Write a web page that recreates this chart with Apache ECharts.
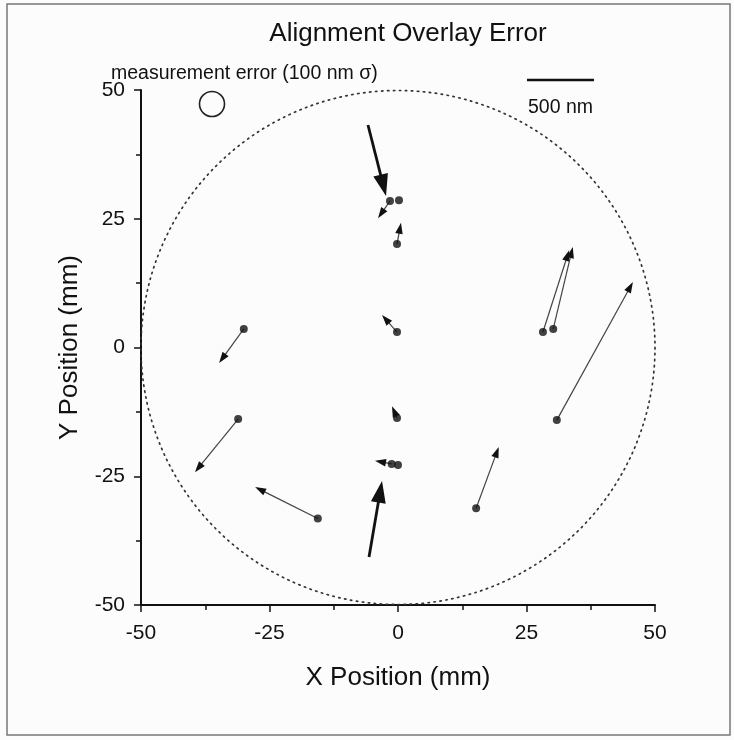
<!DOCTYPE html>
<html>
<head>
<meta charset="utf-8">
<script src="https://cdn.jsdelivr.net/npm/echarts@6/dist/echarts.min.js"></script>
<style>
html,body{margin:0;padding:0;background:#fcfcfc;}
#chart{width:734px;height:740px;}
</style>
</head>
<body>
<div id="chart"></div>
<script>
// Wafer site positions (mm) where overlay error was measured
const startX = [-1.56, -0.19, -0.19, -0.19, -1.23, 28.2, 30.2, 30.9, -30.0, -31.1, -15.6, 15.2];
const startY = [28.45, 20.1, 3.0, -13.7, -22.6, 3.0, 3.6, -14.1, 3.6, -13.9, -33.2, -31.2];
// Arrow tips (mm, error vector drawn at 500 nm ≈ 13 mm scale)
const endX = [-3.89, 0.58, -3.11, -1.17, -4.47, 33.3, 34.0, 45.7, -34.8, -39.5, -27.8, 19.6];
const endY = [25.1, 24.2, 6.3, -11.4, -22.0, 18.9, 19.5, 12.7, -3.0, -24.2, -27.1, -19.3];
// Extra measurement sites with negligible arrows
const extraX = [0.19, 0.0];
const extraY = [28.6, -22.8];
// Callout pointer arrows
const ptrStartX = [-5.84, -5.64];
const ptrStartY = [43.2, -40.7];
const ptrEndX = [-2.33, -3.11];
const ptrEndY = [29.4, -25.9];
// Wafer outline
const waferRadius = 50;
const axisTicks = [-50, -25, 0, 25, 50];

const dots = startX.map((x, i) => [x, startY[i]])
  .concat(extraX.map((x, i) => [x, extraY[i]]));
const arrows = startX.map((x, i) => [x, startY[i], endX[i], endY[i]]);
const pointers = ptrStartX.map((x, i) => [x, ptrStartY[i], ptrEndX[i], ptrEndY[i]]);

function arrowRenderer(lineW, headL, headW, color) {
  return function (params, api) {
    const p0 = api.coord([api.value(0), api.value(1)]);
    const p1 = api.coord([api.value(2), api.value(3)]);
    const dx = p1[0] - p0[0], dy = p1[1] - p0[1];
    const len = Math.sqrt(dx * dx + dy * dy) || 1;
    const ux = dx / len, uy = dy / len;
    const bx = p1[0] - ux * headL, by = p1[1] - uy * headL;
    const nx = -uy, ny = ux;
    return {
      type: 'group',
      children: [
        {
          type: 'line',
          shape: { x1: p0[0], y1: p0[1], x2: bx + ux * 2, y2: by + uy * 2 },
          style: { stroke: color, lineWidth: lineW }
        },
        {
          type: 'polygon',
          shape: {
            points: [
              [p1[0], p1[1]],
              [bx + nx * headW / 2, by + ny * headW / 2],
              [bx - nx * headW / 2, by - ny * headW / 2]
            ]
          },
          style: { fill: '#111' }
        }
      ]
    };
  };
}

const chart = echarts.init(document.getElementById('chart'), null, { renderer: 'canvas' });
const font = 'Liberation Sans, Arial, sans-serif';

chart.setOption({
  backgroundColor: '#fcfcfc',
  animation: false,
  title: {
    text: 'Alignment Overlay Error',
    left: 403, top: 16, textAlign: 'center',
    textStyle: { fontFamily: font, fontSize: 26, fontWeight: 'normal', color: '#111' }
  },
  grid: { left: 141, right: 79, top: 90, bottom: 135, containLabel: false },
  xAxis: {
    type: 'value', min: -50, max: 50, interval: 25,
    name: 'X Position (mm)', nameLocation: 'middle', nameGap: 60,
    nameTextStyle: { fontFamily: font, fontSize: 26, color: '#111' },
    axisLine: { onZero: false, lineStyle: { color: '#111', width: 2 } },
    axisTick: { show: true, inside: false, length: 7, lineStyle: { color: '#111', width: 1.5 } },
    minorTick: { show: true, splitNumber: 2, length: 5, lineStyle: { color: '#111', width: 1.5 } },
    axisLabel: { fontFamily: font, fontSize: 21, color: '#111', margin: 18,
      formatter: v => axisTicks.includes(v) ? String(v) : '' },
    splitLine: { show: false }
  },
  yAxis: {
    type: 'value', min: -50, max: 50, interval: 25,
    name: 'Y Position (mm)', nameLocation: 'middle', nameGap: 58,
    nameTextStyle: { fontFamily: font, fontSize: 26, color: '#111' },
    axisLine: { onZero: false, lineStyle: { color: '#111', width: 2 } },
    axisTick: { show: true, inside: false, length: 7, lineStyle: { color: '#111', width: 1.5 } },
    minorTick: { show: true, splitNumber: 2, length: 5, lineStyle: { color: '#111', width: 1.5 } },
    axisLabel: { fontFamily: font, fontSize: 21, color: '#111', margin: 16,
      formatter: v => axisTicks.includes(v) ? String(v) : '' },
    splitLine: { show: false }
  },
  series: [
    {
      type: 'custom',
      name: 'wafer',
      data: [[0, 0, waferRadius]],
      clip: false,
      silent: true,
      renderItem: function (params, api) {
        const c = api.coord([api.value(0), api.value(1)]);
        const r = api.size([api.value(2), 0])[0];
        return {
          type: 'circle',
          shape: { cx: c[0], cy: c[1], r: r },
          style: { fill: null, stroke: '#333', lineWidth: 1.7, lineDash: [1.4, 4.6], lineCap: 'round' }
        };
      }
    },
    {
      type: 'custom',
      name: 'errors',
      data: arrows,
      clip: false,
      renderItem: arrowRenderer(1.2, 11, 7.5, '#444')
    },
    {
      type: 'custom',
      name: 'pointers',
      data: pointers,
      clip: false,
      renderItem: arrowRenderer(2.8, 22, 15, '#111')
    },
    {
      type: 'scatter',
      name: 'sites',
      data: dots,
      symbol: 'circle',
      symbolSize: 8,
      itemStyle: { color: '#111' }
    }
  ],
  graphic: [
    {
      type: 'rect',
      shape: { x: 7, y: 4, width: 723, height: 731 },
      style: { fill: null, stroke: '#777', lineWidth: 1.5 },
      silent: true
    },
    {
      type: 'text',
      left: 111, top: 64,
      style: { text: 'measurement error (100 nm σ)', font: '19.5px Liberation Sans, Arial, sans-serif', fill: '#111' }
    },
    {
      type: 'circle',
      shape: { cx: 212, cy: 104, r: 12.5 },
      style: { fill: null, stroke: '#222', lineWidth: 1.6 }
    },
    {
      type: 'line',
      shape: { x1: 527, y1: 80, x2: 594, y2: 80 },
      style: { stroke: '#111', lineWidth: 2.5 }
    },
    {
      type: 'text',
      left: 528, top: 98,
      style: { text: '500 nm', font: '19.5px Liberation Sans, Arial, sans-serif', fill: '#111' }
    }
  ]
});
</script>
</body>
</html>
